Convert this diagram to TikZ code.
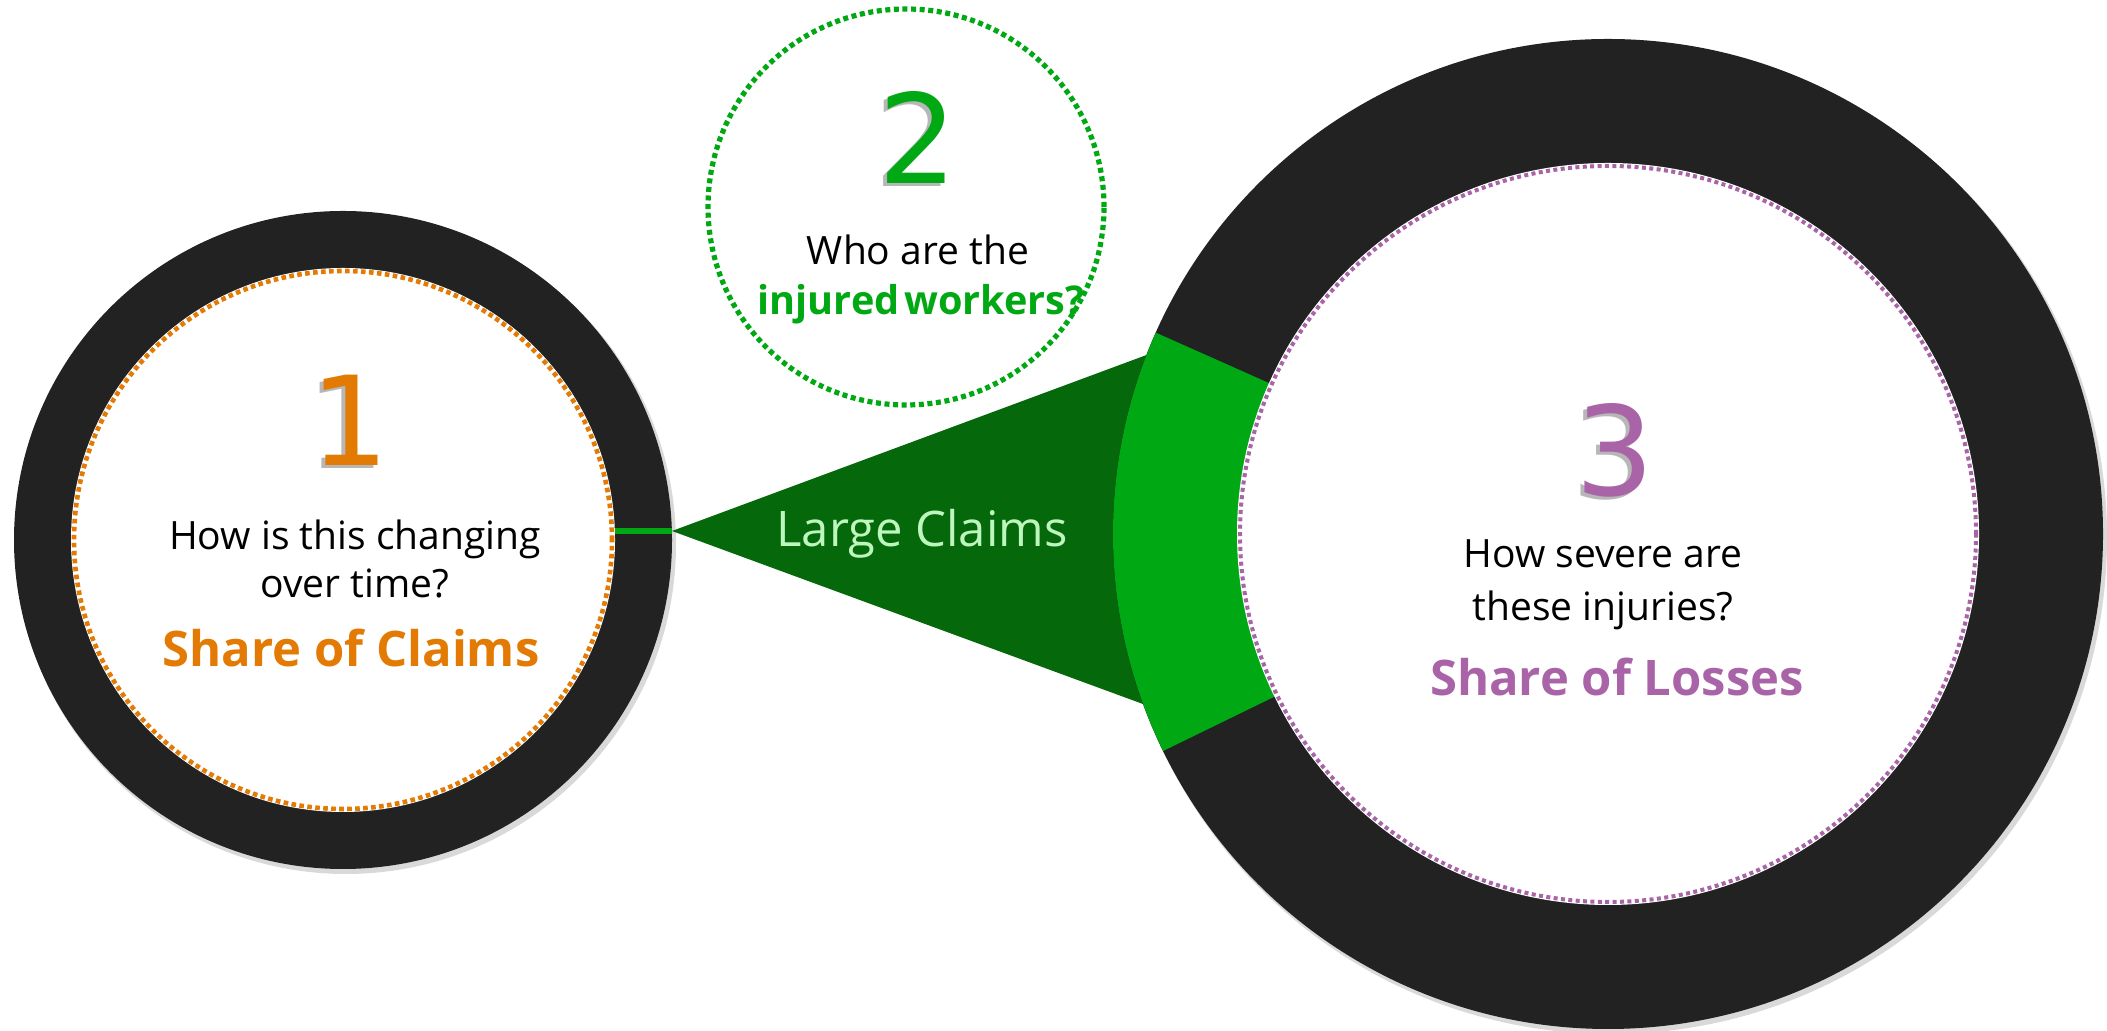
\documentclass[tikz,border=0pt]{standalone}
\usepackage{fontspec}
\setmainfont{Open Sans}
\newfontfamily\numfont{DejaVu Sans}
\usetikzlibrary{calc}
\definecolor{ring}{HTML}{222222}
\definecolor{orng}{HTML}{E27A03}
\definecolor{grn}{HTML}{00A913}
\definecolor{dgrn}{HTML}{05680A}
\definecolor{purp}{HTML}{A964A8}
\definecolor{lgrn}{HTML}{BDF7BD}
\begin{document}
\begin{tikzpicture}[x=0.5pt,y=0.5pt,
  qtext/.style={font=\fontsize{19.5}{23}\selectfont, text=black, inner sep=0pt, anchor=base},
  ktext/.style={font=\fontsize{24.5}{28}\selectfont\bfseries, inner sep=0pt, anchor=base},
  numtext/.style={font=\numfont\fontsize{62}{70}\selectfont, inner sep=0pt},
  numshadow/.style={numtext, text=gray!75, opacity=0.75},
  ringshadow/.style={fill=black, opacity=0.15},
]
\useasboundingbox[fill=white] (0,0) rectangle (2107,1031);
\coordinate (L) at (343,491);
\coordinate (R) at (1608,497);
\coordinate (G) at (906,824);
\coordinate (apex) at (672,500);
\coordinate (lineStart) at (615,500);

% left circle
\fill[ringshadow] ($(L)+(3,-4)$) circle (330);
\fill[ring] (L) circle (329);
\fill[white] (L) circle (272);
\draw[orng, line width=2.3pt, dash pattern=on 2.3pt off 1.7pt] (L) circle (269);

% connector line and triangle
\draw[grn, line width=3.2pt] (lineStart) -- (apex);
\coordinate (tTop) at ($(R)+(158.8:495)$);
\coordinate (tBot) at ($(R)+(200.1:495)$);
\fill[dgrn] (apex) -- (tTop) -- (tBot) -- cycle;

% right circle
\fill[ringshadow] ($(R)+(3,-4)$) circle (496);
\fill[ring] (R) circle (495);
\fill[grn] (R) -- ($(R)+(156:495)$) arc[start angle=156, end angle=206, radius=495] -- cycle;
\fill[white] (R) circle (371);
\draw[purp, line width=2pt, dash pattern=on 2pt off 1.7pt] (R) circle (368);

% green dotted circle
\draw[grn, line width=2.6pt, dash pattern=on 2.5pt off 1.8pt] (G) circle (198);

% numbers
\node[numshadow] (n1s) at (346,608) {1};
\node[numtext, text=orng] (n1) at (350,611) {1};
\node[numshadow] (n2s) at (914,890) {2};
\node[numtext, text=grn] (n2) at (918,893) {2};
\node[numshadow] (n3s) at (1611,578) {3};
\node[numtext, text=purp] (n3) at (1615,581) {3};

% texts
\node[qtext] (q1a) at (355,481) {How is this changing};
\node[qtext] (q1b) at (355,433) {over time?};
\node[ktext, text=orng] (k1) at (351,364) {Share of Claims};
\node[qtext] (q2) at (918,766) {Who are the};
\node[ktext, font=\fontsize{19.8}{24}\selectfont\bfseries, text=grn] (k2) at (921,716) {injured\hspace{0.12em}workers?};
\node[qtext] (q3a) at (1603,463) {How severe are};
\node[qtext] (q3b) at (1603,410) {these injuries?};
\node[ktext, text=purp] (k3) at (1617,335) {Share of Losses};
\node[font=\fontsize{24.5}{28}\selectfont, text=lgrn, inner sep=0pt, anchor=base] (lc) at (922,484) {Large Claims};
\end{tikzpicture}
\end{document}
